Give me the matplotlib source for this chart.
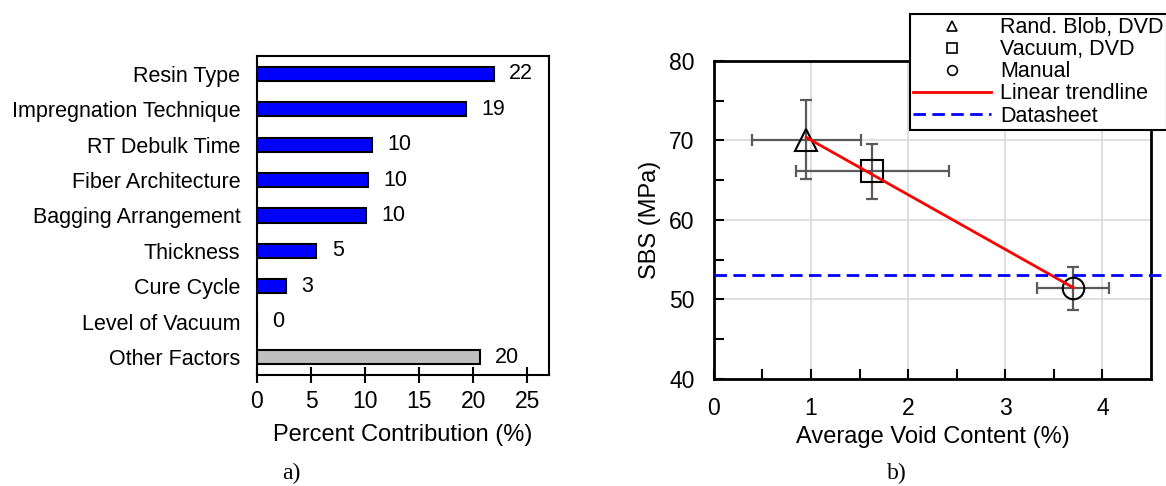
#!/usr/bin/env python3
"""Percent contribution of factors and SBS vs void content."""

import matplotlib

matplotlib.use("Agg")

import matplotlib.pyplot as plt
import numpy as np
from matplotlib.lines import Line2D

plt.rcParams["font.family"] = ["Liberation Sans", "DejaVu Sans"]

FACTORS = [
    "Resin Type",
    "Impregnation Technique",
    "RT Debulk Time",
    "Fiber Architecture",
    "Bagging Arrangement",
    "Thickness",
    "Cure Cycle",
    "Level of Vacuum",
    "Other Factors",
]
CONTRIBUTION = [21.9, 19.3, 10.6, 10.3, 10.1, 5.5, 2.7, 0.0, 20.6]
CONTRIBUTION_LABELS = ["22", "19", "10", "10", "10", "5", "3", "0", "20"]

SERIES = ["Rand. Blob, DVD", "Vacuum, DVD", "Manual"]
VOID = [0.95, 1.63, 3.70]
VOID_ERR = [0.56, 0.79, 0.37]
SBS = [70.1, 66.1, 51.4]
SBS_ERR = [5.0, 3.5, 2.7]
MARKERS = ["^", "s", "o"]
DATASHEET_SBS = 53.1

FS = 15.5      # category / legend / value labels
TICK_FS = 16.5
LABEL_FS = 17
DASH = (0, (4.5, 2.3))

fig = plt.figure(figsize=(11.66, 4.86), dpi=100)

# a) horizontal bars
ax1 = fig.add_axes([0.2204, 0.2284, 0.2504, 0.6564])
y = np.arange(len(FACTORS))
colors = ["#0000ff"] * (len(FACTORS) - 1) + ["#c0c0c0"]
ax1.barh(y, CONTRIBUTION, height=0.4, color=colors, edgecolor="black", linewidth=1.5)
for yi, val, lab in zip(y, CONTRIBUTION, CONTRIBUTION_LABELS):
    ax1.annotate(lab, (val, yi), xytext=(11, 0), textcoords="offset points",
                 va="center", ha="left", fontsize=FS)
ax1.set_ylim(len(FACTORS) - 0.5, -0.5)
ax1.set_xlim(0, 27)
ax1.set_yticks(y)
ax1.set_yticklabels(FACTORS, fontsize=FS)
ax1.set_xticks([0, 5, 10, 15, 20, 25])
ax1.tick_params(axis="y", length=0, pad=12)
ax1.tick_params(axis="x", direction="inout", length=12, width=1.5, labelsize=TICK_FS, pad=5)
for sp in ax1.spines.values():
    sp.set_linewidth(1.5)
ax1.set_xlabel("Percent Contribution (%)", fontsize=LABEL_FS, labelpad=8)

# b) SBS vs void content
ax2 = fig.add_axes([0.6123, 0.2202, 0.3748, 0.6543])
ax2.grid(True, color="#d9d9d9", linewidth=1.2)
ax2.set_axisbelow(True)
for xv, xe, yv, ye, m in zip(VOID, VOID_ERR, SBS, SBS_ERR, MARKERS):
    ax2.errorbar(xv, yv, xerr=xe, yerr=ye, fmt="none", ecolor="#5a5a5a",
                 elinewidth=1.6, capsize=4, capthick=1.6, zorder=2)
    ax2.plot(xv, yv, marker=m, markersize=15.5, markerfacecolor="none",
             markeredgecolor="black", markeredgewidth=1.5, linestyle="none", zorder=3)
slope, intercept = np.polyfit(VOID, SBS, 1)
xfit = np.array([min(VOID), max(VOID)])
ax2.plot(xfit, slope * xfit + intercept, color="red", linewidth=2, zorder=4)
ax2.plot([0, 4.85], [DATASHEET_SBS, DATASHEET_SBS], color="blue", linewidth=2,
         linestyle=DASH, clip_on=False, zorder=4)
ax2.set_xlim(0, 4.5)
ax2.set_ylim(40, 80)
ax2.set_xticks([0, 1, 2, 3, 4])
ax2.set_xticks(np.arange(0.5, 4.5, 1.0), minor=True)
ax2.set_yticks([40, 50, 60, 70, 80])
ax2.set_yticks([45, 55, 65, 75], minor=True)
ax2.tick_params(which="both", direction="in", length=7, width=1.5, labelsize=TICK_FS)
ax2.tick_params(axis="x", which="major", pad=13)
ax2.tick_params(axis="y", which="major", pad=14)
for sp in ax2.spines.values():
    sp.set_linewidth(2)
ax2.set_xlabel("Average Void Content (%)", fontsize=LABEL_FS, labelpad=4)
ax2.set_ylabel("SBS (MPa)", fontsize=LABEL_FS, labelpad=6)

handles = [
    Line2D([], [], marker=m, markersize=7, markerfacecolor="none",
           markeredgecolor="black", markeredgewidth=1.2, linestyle="none")
    for m in MARKERS
]
handles += [
    Line2D([], [], color="red", linewidth=2),
    Line2D([], [], color="blue", linewidth=2, linestyle=DASH),
]
labels = SERIES + ["Linear trendline", "Datasheet"]
leg = fig.legend(handles, labels, loc="upper left", bbox_to_anchor=(910 / 1166, 1 - 14 / 486),
                 fontsize=FS, frameon=True, fancybox=False, edgecolor="black",
                 framealpha=1, handlelength=3.6, handletextpad=0.45, labelspacing=0.05,
                 borderpad=0.15, borderaxespad=0)
leg.get_frame().set_linewidth(1.5)

fig.text(291 / 1166, 1 - 473 / 486, "a)", family="Liberation Serif", fontsize=17,
         ha="center", va="center")
fig.text(897 / 1166, 1 - 473 / 486, "b)", family="Liberation Serif", fontsize=17,
         ha="center", va="center")

fig.savefig("out.png", dpi=100)
